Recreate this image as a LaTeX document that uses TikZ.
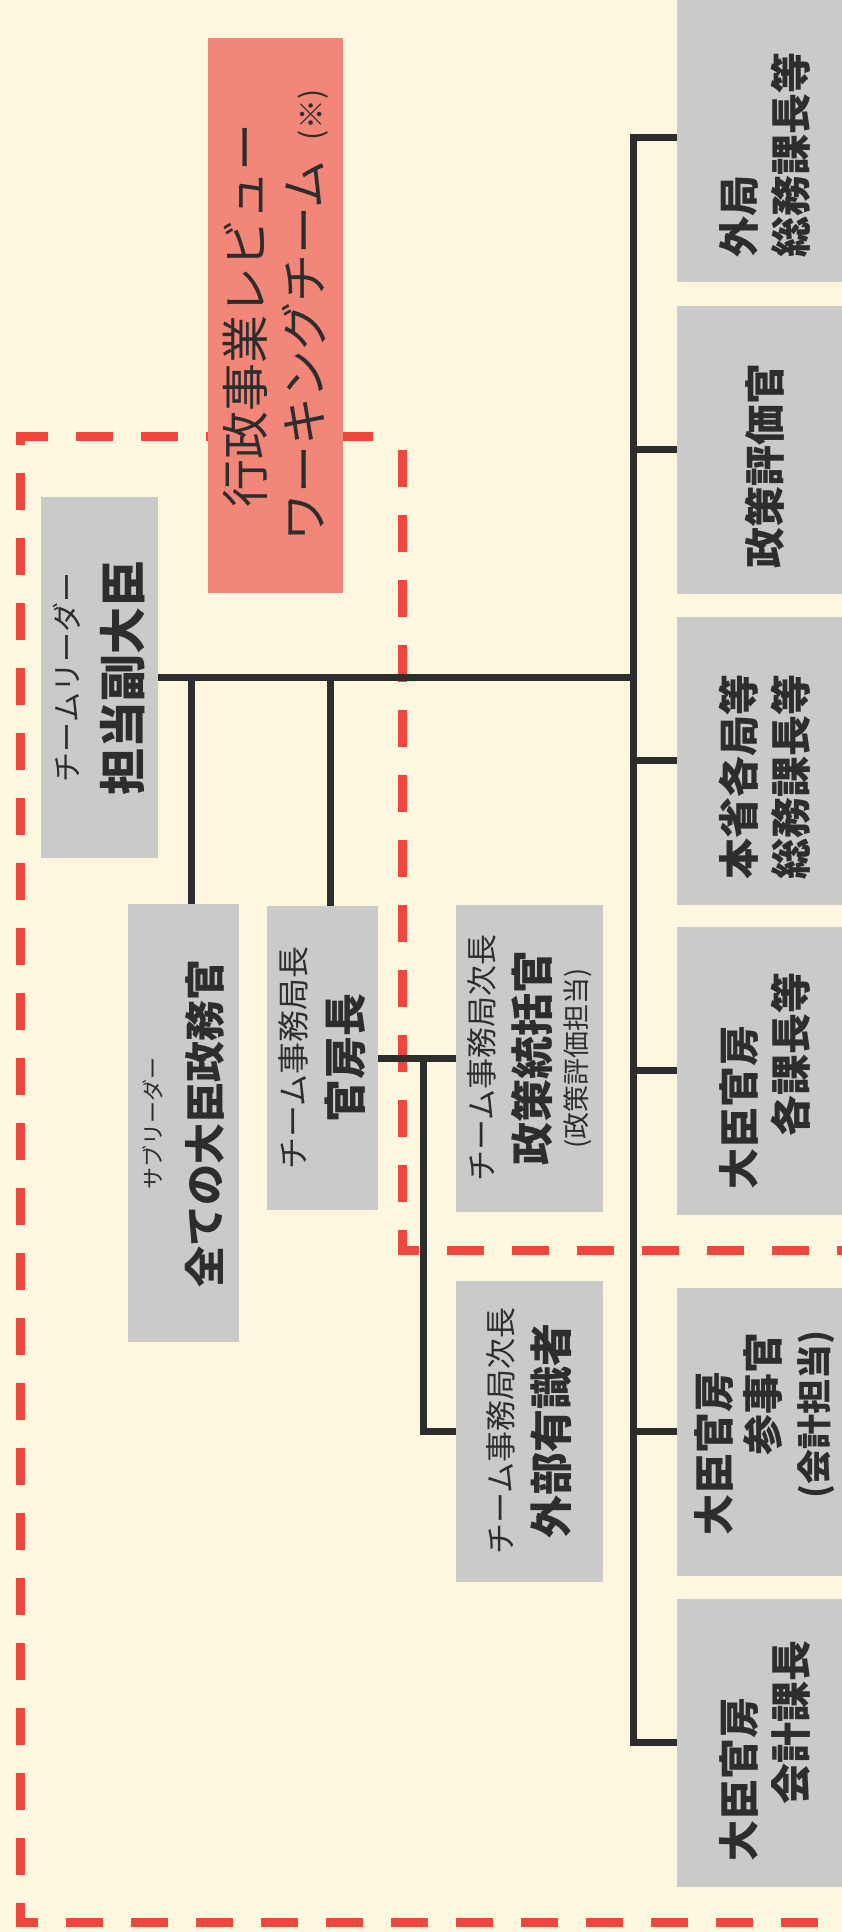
\documentclass[tikz,border=0pt]{standalone}
\usepackage{fontspec}
\setmainfont{Noto Sans CJK JP}
\usepackage{tikz}
\usetikzlibrary{calc}

\definecolor{paper}{RGB}{252,247,222}
\definecolor{boxgray}{RGB}{202,202,200}
\definecolor{teamred}{RGB}{242,134,120}
\definecolor{dashred}{RGB}{239,70,62}
\definecolor{ink}{RGB}{45,45,45}

\newcommand{\rolesize}[1]{\fontsize{#1}{#1}\selectfont\mdseries}

\begin{document}
\begin{tikzpicture}
		[x=1pt,y=-1pt]
			\tikzstyle{post}=[rotate=90, fill=boxgray, text=ink, inner sep=0pt, align=center]
			\tikzstyle{unit}=[post, minimum width=288pt, minimum height=176pt,
		text width=238pt, align=left, font=\fontsize{41}{52}\selectfont\bfseries]
			\tikzstyle{tie}=[draw=ink, line width=7pt]
			\tikzstyle{reddash}=[draw=dashred, line width=9pt, dash pattern=on 37pt off 28pt]

		 \fill[paper] (0,0) rectangle (842,1932);
		 \useasboundingbox (0,0) rectangle (842,1932);

		 %-----team frame
		 \draw[reddash] (373,436) -- (20,436) -- (20,1922) -- (842,1922);
		 \draw[reddash] (402,450) -- (402,1250) -- (842,1250);

		 %-----team
		 \node[post, minimum width=361pt, minimum height=117pt, font=\fontsize{47}{62}\selectfont\bfseries]  (fukudaijin) at (99.5,677.5) {{\rolesize{30}チームリーダー}\\担当副大臣};
		 \node[post, minimum width=438pt, minimum height=111pt, font=\fontsize{41}{59}\selectfont\bfseries]  (seimukan) at (183.5,1123) {{\rolesize{22}サブリーダー}\\全ての大臣政務官};
		 \node[post, minimum width=304pt, minimum height=111pt, font=\fontsize{43}{56}\selectfont\bfseries]  (kanbochou) at (322.5,1058) {{\rolesize{32}チーム事務局長}\\官房長};
		 \node[post, minimum width=307pt, minimum height=147pt, font=\fontsize{43}{55}\selectfont\bfseries]  (toukatsu) at (529.5,1058) {{\rolesize{31}チーム事務局次長}\\政策統括官\\[-17pt]{\rolesize{27}(政策評価担当)}};
		 \node[post, minimum width=301pt, minimum height=147pt, font=\fontsize{43}{55}\selectfont\bfseries]  (yushiki) at (529.5,1431) {{\rolesize{31}チーム事務局次長}\\外部有識者};

		 %-----working team
		 \node[post, fill=teamred, minimum width=555pt, minimum height=135pt, font=\fontsize{48}{59}\selectfont]  (review) at (275.5,315.5) {行政事業レビュー\\ワーキングチーム\hspace{20pt}{\rolesize{30}(※)}};

		 %-----divisions
		 \node[unit]  (gaikyoku) at (765,138) {外局\\総務課長等};
		 \node[unit]  (hyoukakan) at (765,449.5) {政策評価官};
		 \node[unit]  (honsho) at (765,760.5) {本省各局等\\総務課長等};
		 \node[unit]  (kakukachou) at (765,1070.5) {大臣官房\\\hspace*{1.3em}各課長等};
		 \node[unit, font=\fontsize{41}{49}\selectfont\bfseries]  (sanjikan) at (765,1431.5) {\hspace*{15pt}大臣官房\\\hspace*{95pt}参事官\\\hspace*{52pt}{\fontsize{35}{35}\selectfont(会計担当)}};
		 \node[unit]  (kaikei) at (765,1742.5) {大臣官房\\\hspace*{1.4em}会計課長};

		 \coordinate (spine) at (633,677.5);
		 \coordinate (split) at (423,1058);

		  \draw[tie] (gaikyoku.north) -| (spine) |- (kaikei.north);
		  \draw[tie] (fukudaijin.south) -- (spine);
		  \draw[tie] ([xshift=8pt]seimukan.east) |- (fukudaijin.south);
		  \draw[tie] ([xshift=8pt]kanbochou.east) |- (fukudaijin.south);
		  \draw[tie] (kanbochou.south) -- (toukatsu.north);
		  \draw[tie] (split) |- (yushiki.north);

		 \foreach \dept in {hyoukakan, honsho, kakukachou, sanjikan}
		 \draw[tie] (\dept.north) -- (\dept.north -| spine);

\end{tikzpicture}
\end{document}
